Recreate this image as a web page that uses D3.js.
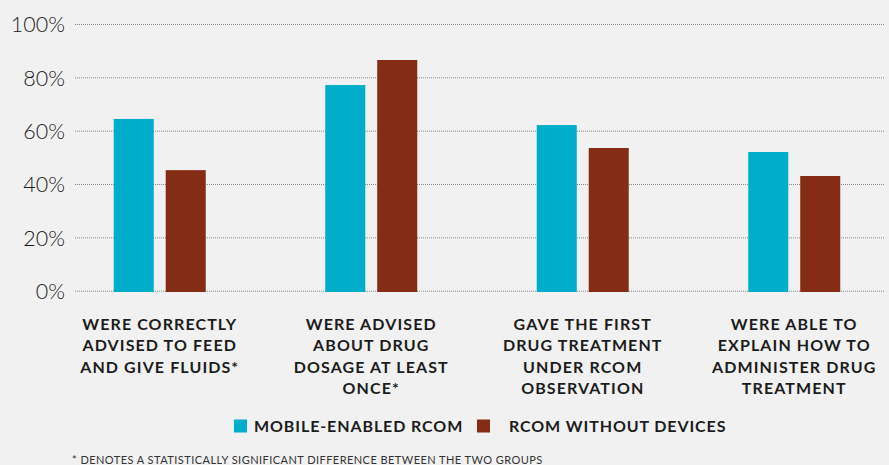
<!DOCTYPE html>
<html>
<head>
<meta charset="utf-8">
<script src="https://cdn.jsdelivr.net/npm/d3@7"></script>
<style>
  html, body { margin: 0; padding: 0; background: #f1f1f1; }
  svg { display: block; }
</style>
</head>
<body>
<div id="chart"></div>
<script>
const categories = [
    ["WERE CORRECTLY", "ADVISED TO FEED", "AND GIVE FLUIDS*"],
    ["WERE ADVISED", "ABOUT DRUG", "DOSAGE AT LEAST", "ONCE*"],
    ["GAVE THE FIRST", "DRUG TREATMENT", "UNDER RCOM", "OBSERVATION"],
    ["WERE ABLE TO", "EXPLAIN HOW TO", "ADMINISTER DRUG", "TREATMENT"]
];
const seriesNames = ["MOBILE-ENABLED RCOM", "RCOM WITHOUT DEVICES"];
const mobileValues = [64.4, 77.1, 62.1, 52.0];
const withoutValues = [45.2, 86.5, 53.5, 43.0];
const yTicks = [0, 20, 40, 60, 80, 100];
const footnote = "* DENOTES A STATISTICALLY SIGNIFICANT DIFFERENCE BETWEEN THE TWO GROUPS";

const width = 889, height = 465;
const colors = ["#00adca", "#842c15"];
const textColor = "#1c1c1c";

const svg = d3.select("#chart").append("svg")
    .attr("width", width)
    .attr("height", height)
    .attr("viewBox", `0 0 ${width} ${height}`);

svg.append("rect").attr("width", width).attr("height", height).attr("fill", "#f1f1f1");

const y = d3.scaleLinear().domain([0, 100]).range([290.7, 24]);

const x0 = d3.scaleBand()
    .domain(d3.range(categories.length))
    .range([54, 900]);

const x1 = d3.scaleBand()
    .domain(d3.range(seriesNames.length))
    .range([0, 92])
    .paddingInner(0.23);

const groupOffset = (x0.bandwidth() - 92) / 2;

// gridlines + y labels
const yAxis = d3.axisLeft(y)
    .tickValues(yTicks)
    .tickFormat(d => d + "%")
    .tickSize(-(884 - 75))
    .tickPadding(10);

const yg = svg.append("g")
    .attr("transform", "translate(75,0)")
    .call(yAxis);

yg.select(".domain").remove();
yg.selectAll(".tick line")
    .attr("stroke", "#888")
    .attr("stroke-width", 1)
    .attr("stroke-dasharray", "1,1");
yg.selectAll(".tick text")
    .attr("fill", textColor)
    .attr("dy", "0.36em")
    .style("font-family", "Lato, 'Open Sans', sans-serif")
    .style("font-weight", 300)
    .style("font-size", "21.5px");

// bars
const rows = categories.map((c, i) => [mobileValues[i], withoutValues[i]]);

const groups = svg.append("g")
    .selectAll("g")
    .data(rows)
    .join("g")
    .attr("transform", (d, i) => `translate(${x0(i) + groupOffset},0)`);

groups.selectAll("rect")
    .data(d => d)
    .join("rect")
    .attr("x", (d, j) => x1(j))
    .attr("width", x1.bandwidth())
    .attr("y", d => y(d))
    .attr("height", d => y(0) + 1.3 - y(d))
    .attr("fill", (d, j) => colors[j]);

// category labels
const labels = svg.append("g")
    .selectAll("text")
    .data(categories)
    .join("text")
    .attr("x", (d, i) => x0(i) + x0.bandwidth() / 2)
    .attr("y", 330)
    .attr("text-anchor", "middle")
    .attr("fill", textColor)
    .style("font-family", "Lato, sans-serif")
    .style("font-weight", 700)
    .style("font-size", "16px")
    .style("letter-spacing", "1.1px");

labels.selectAll("tspan")
    .data(d => d)
    .join("tspan")
    .attr("x", function() { return d3.select(this.parentNode).attr("x"); })
    .attr("dy", (d, k) => k === 0 ? 0 : 21.4)
    .text(d => d);

// legend
const legendItems = [
    { name: seriesNames[0], color: colors[0], sx: 234, tx: 254 },
    { name: seriesNames[1], color: colors[1], sx: 477, tx: 509 }
];

const legend = svg.append("g")
    .selectAll("g")
    .data(legendItems)
    .join("g");

legend.append("rect")
    .attr("x", d => d.sx)
    .attr("y", 419.5)
    .attr("width", 13)
    .attr("height", 13)
    .attr("fill", d => d.color);

legend.append("text")
    .attr("x", d => d.tx)
    .attr("y", 431.8)
    .attr("fill", textColor)
    .style("font-family", "Lato, sans-serif")
    .style("font-weight", 700)
    .style("font-size", "16px")
    .style("letter-spacing", "0.9px")
    .text(d => d.name);

// footnote
svg.append("text")
    .attr("x", 72)
    .attr("y", 464)
    .attr("fill", "#333")
    .style("font-family", "Lato, sans-serif")
    .style("font-size", "11px")
    .style("letter-spacing", "0.45px")
    .text(footnote);
</script>
</body>
</html>
